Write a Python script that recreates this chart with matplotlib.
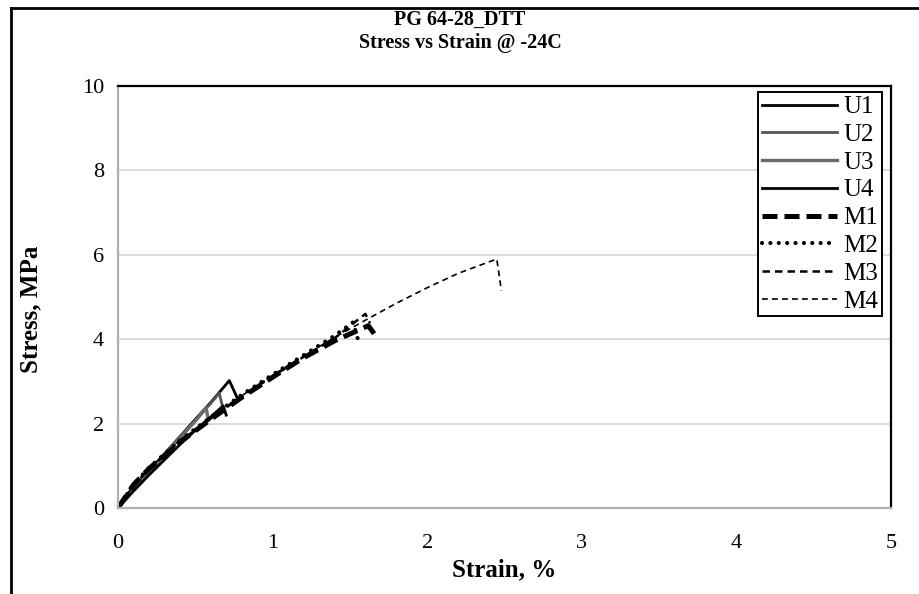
import matplotlib.pyplot as plt
from matplotlib.lines import Line2D

plt.rcParams['font.family'] = ['Liberation Serif', 'DejaVu Serif']

# Strain (%) and stress (MPa)
u1_x = [0, 0.1, 0.2, 0.3, 0.4, 0.5, 0.6, 0.72, 0.77]
u1_y = [0, 0.44, 0.87, 1.28, 1.69, 2.1, 2.5, 3.02, 2.62]
u2_x = [0, 0.1, 0.2, 0.3, 0.4, 0.5, 0.6, 0.655, 0.677]
u2_y = [0, 0.44, 0.86, 1.27, 1.67, 2.07, 2.48, 2.72, 2.39]
u3_x = [0, 0.1, 0.2, 0.3, 0.4, 0.5, 0.57, 0.584]
u3_y = [0, 0.43, 0.85, 1.26, 1.66, 2.06, 2.38, 2.08]
u4_x = [0, 0.1, 0.2, 0.3, 0.4, 0.5, 0.6, 0.68, 0.7]
u4_y = [0, 0.4, 0.78, 1.14, 1.5, 1.84, 2.16, 2.42, 2.2]

m1_x = [0, 0.1, 0.2, 0.4, 0.6, 0.8, 1.0, 1.2, 1.4, 1.62, 1.67]
m1_y = [0, 0.55, 0.93, 1.56, 2.1, 2.62, 3.1, 3.56, 3.96, 4.32, 4.06]
m2_x = [0, 0.1, 0.2, 0.4, 0.6, 0.8, 1.0, 1.2, 1.4, 1.52, 1.555]
m2_y = [0, 0.56, 0.95, 1.6, 2.15, 2.68, 3.16, 3.62, 4.08, 4.4, 3.96]
m3_x = [0, 0.1, 0.2, 0.4, 0.6, 0.8, 1.0, 1.2, 1.4, 1.6, 1.63]
m3_y = [0, 0.54, 0.92, 1.56, 2.12, 2.64, 3.12, 3.58, 4.02, 4.6, 4.38]
m4_x = [0, 0.1, 0.2, 0.4, 0.6, 0.8, 1.0, 1.2, 1.4, 1.6, 1.8, 2.0, 2.2, 2.45, 2.48]
m4_y = [0, 0.55, 0.94, 1.58, 2.14, 2.66, 3.14, 3.6, 4.04, 4.45, 4.85, 5.22, 5.56, 5.9, 5.15]

fig = plt.figure(figsize=(9.2, 5.94), dpi=100)
ax = fig.add_axes([118 / 920, 1 - 508 / 594, (891 - 118) / 920, (508 - 86) / 594])

ax.plot(u1_x, u1_y, color='black', lw=2.0, label='U1')
ax.plot(u2_x, u2_y, color='#555555', lw=2.0, label='U2')
ax.plot(u3_x, u3_y, color='#6a6a6a', lw=2.4, label='U3')
ax.plot(u4_x, u4_y, color='black', lw=2.0, label='U4')
ax.plot(m1_x, m1_y, color='black', lw=3.6, ls=(0, (3, 1.4)), label='M1')
ax.plot(m2_x, m2_y, color='black', lw=3.0, ls=(0, (0.01, 2.0)),
        dash_capstyle='round', label='M2')
ax.plot(m3_x, m3_y, color='black', lw=1.8, ls=(0, (3, 2)), label='M3')
ax.plot(m4_x, m4_y, color='black', lw=1.2, ls=(0, (3.5, 2.5)), label='M4')

ax.set_xlim(0, 5)
ax.set_ylim(0, 10)
ax.set_xticks([0, 1, 2, 3, 4, 5])
ax.set_yticks([0, 2, 4, 6, 8, 10])
ax.tick_params(length=0, labelsize=16)
ax.tick_params(axis='x', pad=19)
ax.tick_params(axis='y', pad=10)
ax.grid(axis='y', color='#d9d9d9', lw=1.3)
ax.set_axisbelow(True)
for s in ['top', 'right']:
    ax.spines[s].set_color('black')
    ax.spines[s].set_linewidth(1.6)
for s in ['left', 'bottom']:
    ax.spines[s].set_color('#b0b0b0')
    ax.spines[s].set_linewidth(1.6)

ax.set_xlabel('Strain, %', fontsize=18, fontweight='bold')
ax.set_ylabel('Stress, MPa', fontsize=18, fontweight='bold')
ax.xaxis.set_label_coords(0.5, (508 - 558) / 422)
ax.yaxis.set_label_coords((42 - 118) / 773, 0.47)
fig.text(0.5, 1 - 20 / 594, 'PG 64-28_DTT', ha='center', va='center',
         fontsize=14.5, fontweight='bold')
fig.text(0.5, 1 - 43 / 594, 'Stress vs Strain @ -24C', ha='center', va='center',
         fontsize=14.5, fontweight='bold')

leg = ax.legend(loc='upper right', bbox_to_anchor=(882 / 920, 1 - 92 / 594),
                bbox_transform=fig.transFigure, fontsize=18, frameon=True,
                fancybox=False, edgecolor='black', framealpha=1,
                handlelength=3.0, handletextpad=0.25, labelspacing=0.21,
                borderpad=0.15, borderaxespad=0)
leg.get_frame().set_linewidth(1.4)

# outer chart border (cropped at right and bottom)
fig.add_artist(Line2D([11 / 920, 11 / 920], [1 - 8 / 594, 0], color='black',
                      lw=2, transform=fig.transFigure))
fig.add_artist(Line2D([11 / 920, 1], [1 - 8 / 594, 1 - 8 / 594], color='black',
                      lw=2, transform=fig.transFigure))

fig.savefig('out.png', dpi=100)
